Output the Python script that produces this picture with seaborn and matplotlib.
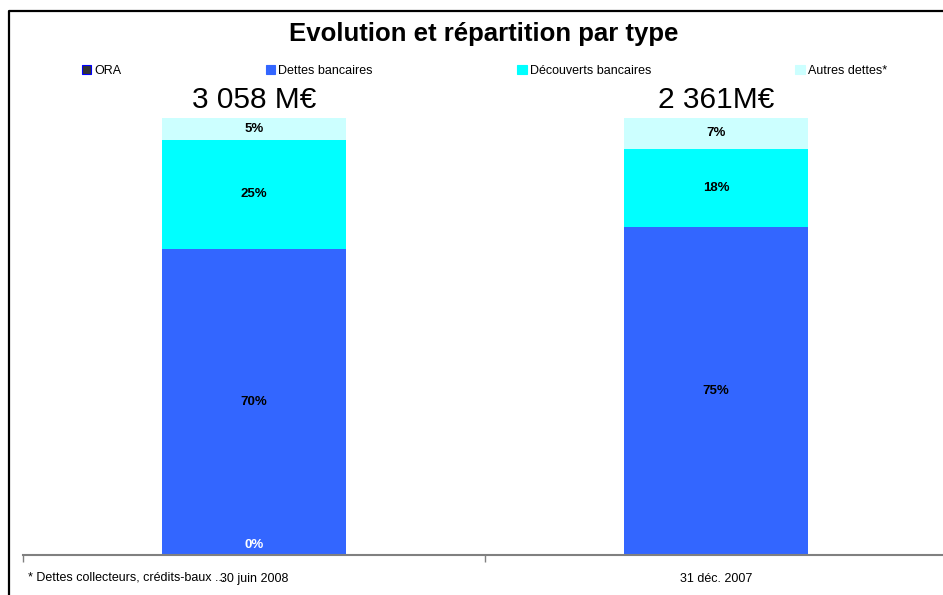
import numpy as np
import pandas as pd
import matplotlib.pyplot as plt
from matplotlib.lines import Line2D
from matplotlib.patches import Patch
import seaborn as sns

# data (percent of total debt)
categories = ["30 juin 2008", "31 déc. 2007"]
ora = [0.0, np.nan]
dettes_bancaires = [70.0, 75.0]
decouverts_bancaires = [25.0, 18.0]
autres_dettes = [5.0, 7.0]
totals = ["3 058 M€", "2 361M€"]
series_names = ["ORA", "Dettes bancaires", "Découverts bancaires", "Autres dettes*"]
colors = ["#333333", "#3366FF", "#00FFFF", "#CCFFFF"]

sns.set_style("white")
plt.rcParams['font.family'] = ['Liberation Sans', 'DejaVu Sans']
plt.rcParams['text.color'] = 'black'
plt.rcParams['xtick.color'] = '#808080'
plt.rcParams['xtick.labelcolor'] = 'black'

df = pd.DataFrame({
    "periode": categories,
    "ORA": ora,
    "Dettes bancaires": dettes_bancaires,
    "Découverts bancaires": decouverts_bancaires,
    "Autres dettes*": autres_dettes,
})
vals = df[series_names].fillna(0) / 100
cum = vals.cumsum(axis=1)

W, H = 943, 595
fig = plt.figure(figsize=(W / 100, H / 100), dpi=100)
# axes spans the category band from x=23px to beyond the right edge
ax = fig.add_axes([23 / W, 1 - 555 / H, 924 / W, 437 / H])

# stacked bars: draw cumulative totals, tallest first
for name, col in reversed(list(zip(series_names, colors))):
    sns.barplot(x=df["periode"], y=cum[name], color=col, width=0.4,
                linewidth=0, saturation=1, ax=ax, order=categories)

ax.set_xlim(-0.5, 1.5)
ax.set_ylim(0, 1)
ax.set_xlabel("")
ax.set_ylabel("")
ax.set_yticks([])
for s in ["top", "right", "left"]:
    ax.spines[s].set_visible(False)
ax.spines["bottom"].set_color("#808080")
ax.spines["bottom"].set_linewidth(1.5)
ax.set_xticks([0, 1])
ax.set_xticklabels(categories, fontsize=9, color="black")
ax.tick_params(axis="x", which="major", length=0, pad=13)
ax.set_xticks([-0.5, 0.5, 1.5], minor=True)
ax.tick_params(axis="x", which="minor", bottom=True, length=5, width=1,
               color="#808080", direction="out")

# segment labels
for i in range(len(categories)):
    if not np.isnan(ora[i]):
        ax.annotate(f"{ora[i]:.0f}%", (i, 0), xytext=(0, 3), textcoords="offset points",
                    ha="center", va="bottom", color="white", fontsize=9.5, fontweight="bold")
    base = vals.loc[i, "ORA"]
    for name in series_names[1:]:
        v = vals.loc[i, name]
        ax.text(i, base + v / 2, f"{v * 100:.0f}%", ha="center", va="center",
                fontsize=9.5, fontweight="bold", color="black")
        base += v
    ax.annotate(totals[i], (i, 1), xytext=(0, 13), textcoords="offset points",
                ha="center", va="center", fontsize=21.5, annotation_clip=False)

fig.text(484 / W, 1 - 34 / H, "Evolution et répartition par type", ha="center",
         va="center", fontsize=18.5, fontweight="bold")

handles = [Patch(facecolor=c, edgecolor=("#0000FF" if n == "ORA" else c), linewidth=0.8)
           for n, c in zip(series_names, colors)]
fig.legend(handles, series_names, loc="center left", ncol=4, mode="expand",
           bbox_to_anchor=(82 / W, 1 - 71 / H, 805 / W, 0), frameon=False, fontsize=9,
           handlelength=0.75, handleheight=0.75, handletextpad=0.25, borderaxespad=0,
           borderpad=0)

fig.text(28 / W, 1 - 578 / H, "* Dettes collecteurs, crédits-baux ...", ha="left",
         va="center", fontsize=9)

# partial frame (top and left edges of the slide box)
fig.add_artist(Line2D([8.5 / W, 8.5 / W, 1], [0, 1 - 11 / H, 1 - 11 / H],
                      transform=fig.transFigure, color="black", linewidth=1.6))

fig.savefig("out.png", dpi=100)
